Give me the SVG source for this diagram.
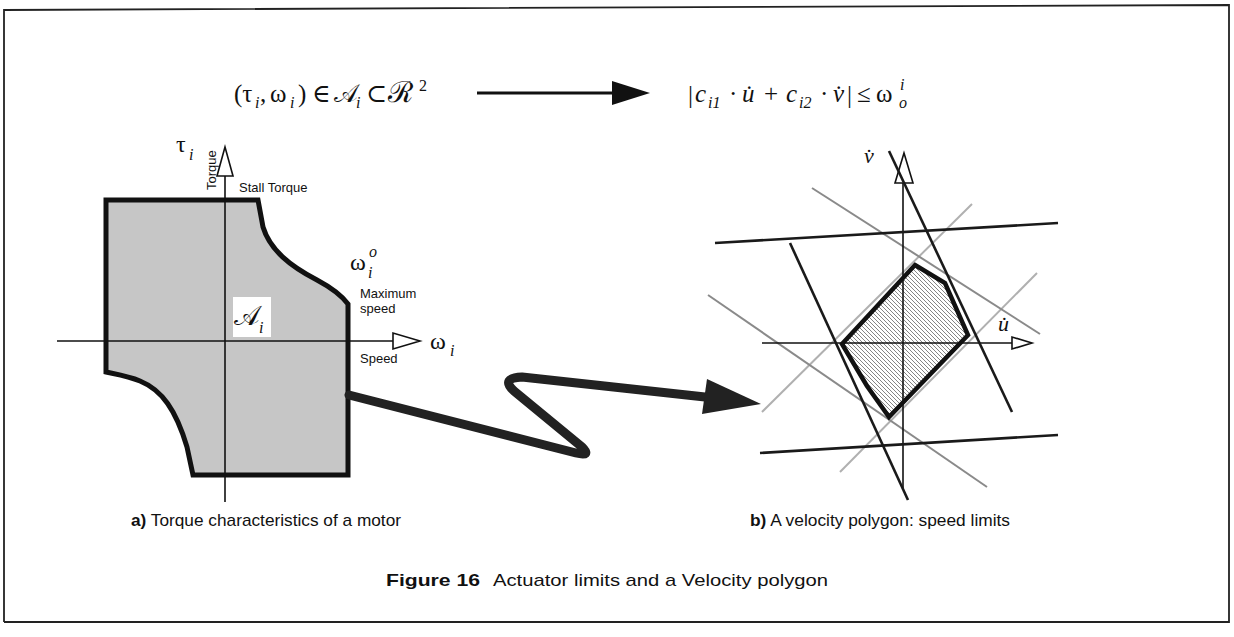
<svg xmlns="http://www.w3.org/2000/svg" width="1234" height="637" viewBox="0 0 1234 637">
<defs>
<style>
.serif{font-family:"Liberation Serif","DejaVu Serif",serif;fill:#111}
.sans{font-family:"Liberation Sans","DejaVu Sans",sans-serif;fill:#111}
.it{font-style:italic}
.axis{stroke:#111;stroke-width:1.6;fill:none}
.open{fill:#fff;stroke:#111;stroke-width:1.6}
.blk{stroke:#1a1a1a;stroke-width:2.6;fill:none}
.gry{stroke:#8a8a8a;stroke-width:2;fill:none}
.lgry{stroke:#b0b0b0;stroke-width:2;fill:none}
</style>
<pattern id="hatch" patternUnits="userSpaceOnUse" width="4" height="4">
<rect width="4" height="4" fill="#fff"/>
<path d="M-1,-1 L5,5" stroke="#666" stroke-width="0.8"/>
</pattern>
</defs>
<rect width="1234" height="637" fill="#fff"/>
<polyline points="4,622 4,10 1229,5 1229,622 4,622" fill="none" stroke="#222" stroke-width="1.8"/>

<g id="formula-left">
<text class="serif" x="234" y="102" font-size="25">(τ</text>
<text class="serif it" x="255" y="108" font-size="16">i</text>
<text class="serif" x="260" y="102" font-size="25">,</text>
<text class="serif" x="270" y="102" font-size="25">ω</text>
<text class="serif it" x="290" y="108" font-size="16">i</text>
<text class="serif" x="298" y="102" font-size="25">)</text>
<text class="serif" x="312" y="102" font-size="25">∈</text>
<text class="serif" x="334" y="102" font-size="25">𝒜</text>
<text class="serif it" x="356" y="108" font-size="16">i</text>
<text class="serif" x="366" y="102" font-size="25">⊂</text>
<text class="serif" x="388" y="102" font-size="29">ℛ</text>
<text class="serif" x="419" y="91" font-size="16">2</text>
</g>
<g id="formula-right">
<text class="serif" x="688" y="103" font-size="25">|</text>
<text class="serif it" x="695" y="102" font-size="25">c</text>
<text class="serif it" x="708" y="108" font-size="16">i1</text>
<text class="serif" x="729" y="102" font-size="25">·</text>
<text class="serif it" x="742" y="102" font-size="25">u̇</text>
<text class="serif" x="764" y="102" font-size="25">+</text>
<text class="serif it" x="786" y="102" font-size="25">c</text>
<text class="serif it" x="799" y="108" font-size="16">i2</text>
<text class="serif" x="820" y="102" font-size="25">·</text>
<text class="serif it" x="833" y="102" font-size="25">v̇</text>
<text class="serif" x="847" y="103" font-size="25">|</text>
<text class="serif" x="857" y="102" font-size="25">≤</text>
<text class="serif" x="876" y="102" font-size="25">ω</text>
<text class="serif it" x="900" y="90" font-size="16">i</text>
<text class="serif it" x="899" y="108" font-size="16">o</text>
</g>

<g id="motor-region">
<path d="M106,200 L258,200 L263,227 C270,250 290,266 317,280 C332,288 342,296 348,304 L348,475 L193,475 L187,447 C176,410 162,390 140,381 C128,376 115,374 106,372 Z" fill="#c6c6c6" stroke="#111" stroke-width="5" stroke-linejoin="miter"/>
</g>
<g id="motor-axes">
<line class="axis" x1="225" y1="176" x2="225" y2="502"/>
<polygon class="open" points="225,147 217,176 233,176"/>
<line class="axis" x1="57" y1="341" x2="394" y2="341"/>
<polygon class="open" points="420,341 393,333 393,349"/>
<text class="serif" x="176" y="152" font-size="24">τ</text>
<text class="serif it" x="189" y="160" font-size="16">i</text>
<text class="sans" x="0" y="0" font-size="13" transform="translate(216,190) rotate(-90)">Torque</text>
<text class="sans" x="239" y="192" font-size="13">Stall Torque</text>
<text class="serif" x="350" y="270" font-size="24">ω</text>
<text class="serif it" x="369" y="257" font-size="16">o</text>
<text class="serif it" x="368" y="278" font-size="16">i</text>
<text class="sans" x="360" y="298" font-size="13">Maximum</text>
<text class="sans" x="360" y="313" font-size="13">speed</text>
<text class="sans" x="360" y="363" font-size="13">Speed</text>
<text class="serif" x="430" y="349" font-size="24">ω</text>
<text class="serif it" x="450" y="356" font-size="16">i</text>
<rect x="233" y="297" width="38" height="40" fill="#fff"/>
<text class="serif" x="234" y="325" font-size="27">𝒜</text>
<text class="serif it" x="259" y="333" font-size="16">i</text>
</g>

<g id="velocity-polygon">
<line class="lgry" x1="972" y1="204" x2="762" y2="412"/>
<line class="lgry" x1="1037" y1="273" x2="840" y2="472"/>
<line class="gry" x1="812" y1="188" x2="1040" y2="334"/>
<line class="gry" x1="708" y1="295" x2="987" y2="487"/>
<polygon points="915,265 945,283 968,335 889,417 867,386 842,344" fill="url(#hatch)" stroke="#111" stroke-width="4.5" stroke-linejoin="miter"/>
<line class="axis" x1="903" y1="183" x2="903" y2="488"/>
<polygon class="open" points="904,153 895,183 913,183"/>
<line class="axis" x1="762" y1="343" x2="1012" y2="343"/>
<polygon class="open" points="1032,343 1012,337 1012,349"/>
<line class="blk" x1="715" y1="243" x2="1058" y2="223"/>
<line class="blk" x1="760" y1="453" x2="1058" y2="435"/>
<line class="blk" x1="790" y1="243" x2="908" y2="500"/>
<line class="blk" x1="889" y1="151" x2="1012" y2="412"/>
<text class="serif it" x="864" y="163" font-size="22">v̇</text>
<text class="serif it" x="998" y="331" font-size="22">u̇</text>
</g>

<g id="connectors">
<line x1="477" y1="93" x2="616" y2="93" stroke="#111" stroke-width="3"/>
<polygon points="612,81 650,93 612,105" fill="#111"/>
<path d="M349,395 L576,453 Q592,457 582,447 L514,391 Q500,378 522,377 L705,397" fill="none" stroke="#222" stroke-width="9" stroke-linejoin="round" stroke-linecap="round"/>
<polygon points="707,379 761,404 702,414" fill="#222"/>
</g>

<g id="captions">
<text class="sans" x="131" y="526" font-size="17" textLength="270" lengthAdjust="spacingAndGlyphs"><tspan font-weight="bold">a)</tspan> Torque characteristics of a motor</text>
<text class="sans" x="750" y="526" font-size="17" textLength="260" lengthAdjust="spacingAndGlyphs"><tspan font-weight="bold">b)</tspan> A velocity polygon: speed limits</text>
<text class="sans" x="386" y="586" font-size="17" font-weight="bold" textLength="94" lengthAdjust="spacingAndGlyphs">Figure 16</text>
<text class="sans" x="493" y="586" font-size="17" textLength="335" lengthAdjust="spacingAndGlyphs">Actuator limits and a Velocity polygon</text>
</g>
</svg>
